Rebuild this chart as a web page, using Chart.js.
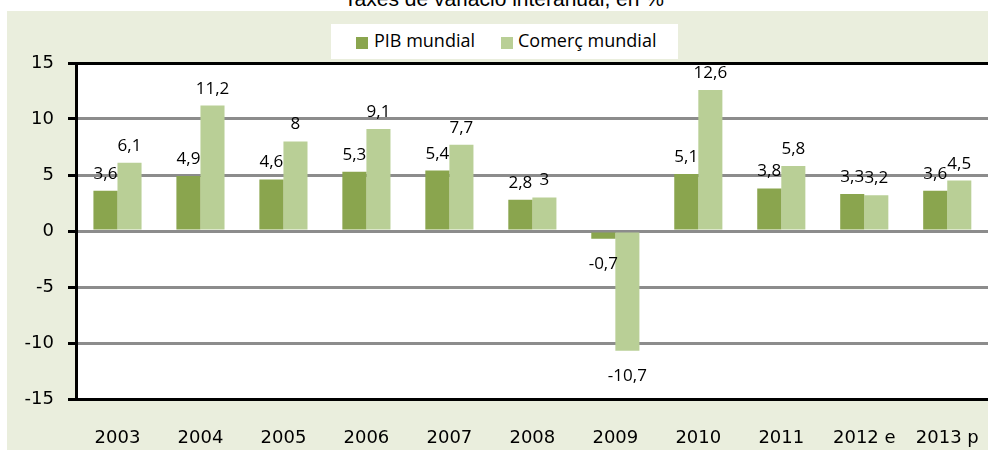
<!DOCTYPE html>
<html>
<head>
<meta charset="utf-8">
<script src="https://cdn.jsdelivr.net/npm/chart.js@4.4.1/dist/chart.umd.min.js"></script>
<style>
  html, body { margin: 0; padding: 0; background: #fff; }
  body { width: 988px; height: 450px; overflow: hidden; position: relative; }
  #title { position: absolute; top: -12px; left: 0; width: 1008px; text-align: center;
    font: 21px "Liberation Sans", Arial, sans-serif; line-height: 21px; color: #000; white-space: nowrap; }
  #bg { position: absolute; left: 7px; top: 11px; right: 0; bottom: 0; background: #eaeedd; }
  #wrap { position: absolute; left: 0; top: 0; width: 1000px; height: 450px; }
  #chart { width: 1000px; height: 450px; }
  #legend { position: absolute; left: 331px; top: 24px; width: 347px; height: 35px; background: #fff;
    font: 18px "Open Sans", sans-serif; color: #000; }
  .sw { position: absolute; top: 13px; width: 12px; height: 12px; }
  .lt { position: absolute; top: 4px; line-height: 24px; white-space: nowrap; }
</style>
</head>
<body>
<div id="title">Taxes de variació interanual, en %</div>
<div id="bg"></div>
<div id="wrap"><canvas id="chart" width="1000" height="450"></canvas></div>
<div id="legend">
  <span class="sw" style="left:25px;background:#8aa54e"></span><span class="lt" style="left:43px">PIB mundial</span>
  <span class="sw" style="left:170px;background:#b9cf96"></span><span class="lt" style="left:187px">Comerç mundial</span>
</div>
<script>
const years = ["2003", "2004", "2005", "2006", "2007", "2008", "2009", "2010", "2011", "2012 e", "2013 p"];
const pibMundial = [3.6, 4.9, 4.6, 5.3, 5.4, 2.8, -0.7, 5.1, 3.8, 3.3, 3.6];
const comercMundial = [6.1, 11.2, 8, 9.1, 7.7, 3, -10.7, 12.6, 5.8, 3.2, 4.5];
const yTicks = [15, 10, 5, 0, -5, -10, -15];

// white plot area
const plotBg = {
  id: "plotBg",
  beforeDraw(chart) {
    const a = chart.chartArea;
    const ctx = chart.ctx;
    ctx.save();
    ctx.fillStyle = "#fff";
    ctx.fillRect(a.left, a.top, a.right - a.left, a.bottom - a.top);
    ctx.restore();
  }
};

// value labels over / under each bar
const barLabels = {
  id: "barLabels",
  afterDatasetsDraw(chart) {
    const ctx = chart.ctx;
    ctx.save();
    ctx.font = '17px "Open Sans", sans-serif';
    ctx.fillStyle = "#000";
    ctx.textAlign = "center";
    ctx.textBaseline = "alphabetic";
    chart.data.datasets.forEach((ds, i) => {
      const meta = chart.getDatasetMeta(i);
      meta.data.forEach((bar, j) => {
        const v = ds.data[j];
        const txt = String(v).replace(".", ",");
        const y = v >= 0 ? bar.y - 12 : bar.y + 30;
        ctx.fillText(txt, bar.x, y);
      });
    });
    ctx.restore();
  }
};

new Chart(document.getElementById("chart"), {
  type: "bar",
  data: {
    labels: years,
    datasets: [
      { label: "PIB mundial", data: pibMundial, backgroundColor: "#8aa54e" },
      { label: "Comerç mundial", data: comercMundial, backgroundColor: "#b9cf96" }
    ]
  },
  options: {
    responsive: false,
    animation: false,
    devicePixelRatio: 1,
    datasets: { bar: { categoryPercentage: 0.58, barPercentage: 1 } },
    layout: { padding: { top: 63, right: 6, bottom: 0, left: 0 } },
    plugins: { legend: { display: false }, tooltip: { enabled: false } },
    scales: {
      x: {
        grid: { display: false },
        border: { display: true, color: "#000", width: 3 },
        ticks: { color: "#000", padding: 21, maxRotation: 0, font: { family: "DejaVu Sans", size: 18 } },
        afterFit(scale) { scale.height = 51; }
      },
      y: {
        min: -15,
        max: 15,
        afterBuildTicks(scale) { scale.ticks = yTicks.map((v) => ({ value: v })); },
        grid: {
          color: (c) => (c.tick && Math.abs(c.tick.value) === 15 ? "#000" : "#8c8c8c"),
          lineWidth: 3,
          tickColor: "#000",
          tickLength: 8
        },
        border: { display: true, color: "#000", width: 3 },
        ticks: { color: "#000", padding: 14, font: { family: "DejaVu Sans", size: 18 } },
        afterFit(scale) { scale.width = 76; }
      }
    }
  },
  plugins: [plotBg, barLabels]
});
</script>
</body>
</html>
